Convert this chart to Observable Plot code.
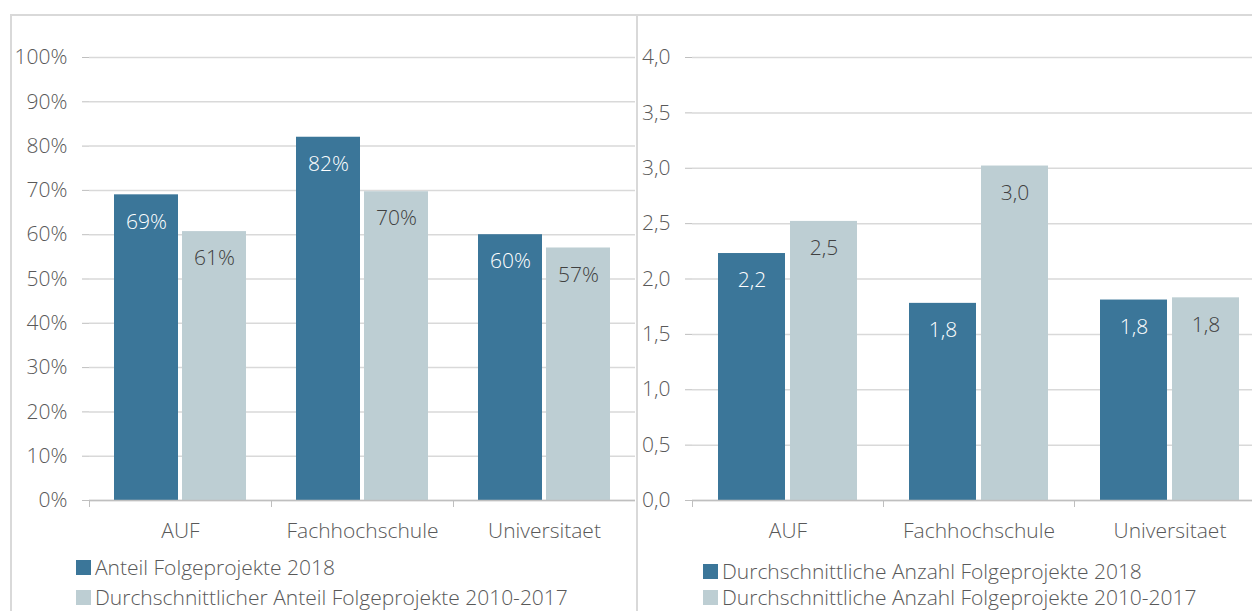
<!DOCTYPE html>
<html>
<head>
<meta charset="utf-8">
<script src="https://cdn.jsdelivr.net/npm/d3@7"></script>
<script src="https://cdn.jsdelivr.net/npm/@observablehq/plot@0.6"></script>
<style>
  body { margin: 0; background: #fff; }
  #wrap { position: relative; width: 1252px; height: 611px; overflow: hidden; font-family: "Open Sans", sans-serif; font-weight: 300; color: #595959; }
  .panel { position: absolute; top: 14px; height: 700px; box-sizing: border-box; border-left: 2px solid #d9d9d9; border-top: 2px solid #d9d9d9; }
  .panel svg { position: absolute; left: 0; top: 0; overflow: visible; }
  .legend { position: absolute; font-size: 21px; line-height: 1; white-space: nowrap; }
  .legend .item { position: absolute; left: 0; display: flex; align-items: center; height: 24px; }
  .legend .sw { width: 15px; height: 15px; margin-right: 4px; flex: none; }
</style>
</head>
<body>
<div id="wrap">
  <div class="panel" id="p1" style="left:10px; width:626px;"></div>
  <div class="panel" id="p2" style="left:636px; width:640px;"></div>
</div>
<script>
const categories = ["AUF", "Fachhochschule", "Universitaet"];

const leftSeries = ["Anteil Folgeprojekte 2018", "Durchschnittlicher Anteil Folgeprojekte 2010-2017"];
const leftValues2018 = [0.69, 0.82, 0.60];
const leftValuesAvg = [0.607, 0.697, 0.57];
const leftTicks = [0, 0.1, 0.2, 0.3, 0.4, 0.5, 0.6, 0.7, 0.8, 0.9, 1.0];

const rightSeries = ["Durchschnittliche Anzahl Folgeprojekte 2018", "Durchschnittliche Anzahl Folgeprojekte 2010-2017"];
const rightValues2018 = [2.23, 1.78, 1.81];
const rightValuesAvg = [2.52, 3.02, 1.83];
const rightTicks = [0, 0.5, 1.0, 1.5, 2.0, 2.5, 3.0, 3.5, 4.0];

const colors = ["#3b7699", "#bdced3"];
const pctFmt = v => Math.round(v * 100) + "%";
const decFmt = v => v.toFixed(1).replace(".", ",");

function panel({v2018, vAvg, series, ticks, fmt, width, height, marginLeft, marginTop, marginBottom, yMax}) {
  const data = categories.flatMap((c, i) => [
    {cat: c, series: series[0], value: v2018[i]},
    {cat: c, series: series[1], value: vAvg[i]}
  ]);
  const bw = (width - marginLeft) / categories.length;
  return Plot.plot({
    width, height, marginLeft, marginRight: 0, marginTop, marginBottom,
    style: {fontFamily: "'Open Sans', sans-serif", fontSize: "21px", fontWeight: 300, color: "#595959", background: "transparent", overflow: "visible"},
    fx: {domain: categories, padding: 0, label: null},
    x: {domain: series, paddingInner: 0.065, paddingOuter: 0.355, axis: null},
    y: {domain: [0, yMax], label: null},
    color: {domain: series, range: colors},
    marks: [
      Plot.gridY(ticks, {stroke: "#d9d9d9", strokeOpacity: 1, strokeWidth: 1.5}),
      Plot.barY(data, {fx: "cat", x: "series", y: "value", fill: "series"}),
      Plot.text(data.filter(d => d.series === series[0]), {fx: "cat", x: "series", y: "value", text: d => fmt(d.value), dy: 27, fill: "#ffffff", fontSize: 21}),
      Plot.text(data.filter(d => d.series === series[1]), {fx: "cat", x: "series", y: "value", text: d => fmt(d.value), dy: 27, fill: "#404040", fontSize: 21}),
      Plot.ruleY([0], {stroke: "#bfbfbf", strokeWidth: 1.5}),
      Plot.axisY(ticks, {tickFormat: fmt, tickSize: 7, tickPadding: 15, stroke: "#bfbfbf", fill: "#595959", line: true, label: null}),
      Plot.axisFx({anchor: "bottom", tickSize: 0, tickPadding: 23, fill: "#595959", label: null}),
      Plot.axisFx({anchor: "bottom", tickSize: 7, text: null, dx: -bw / 2, stroke: "#bfbfbf", label: null})
    ]
  });
}

function legend(el, series, left, top, gap) {
  const lg = document.createElement("div");
  lg.className = "legend";
  lg.style.left = left + "px";
  lg.style.top = top + "px";
  series.forEach((s, i) => {
    const it = document.createElement("div");
    it.className = "item";
    it.style.top = (i * gap) + "px";
    const sw = document.createElement("span");
    sw.className = "sw";
    sw.style.background = colors[i];
    const tx = document.createElement("span");
    tx.textContent = s;
    it.appendChild(sw); it.appendChild(tx);
    lg.appendChild(it);
  });
  el.appendChild(lg);
}

const p1 = document.getElementById("p1");
p1.appendChild(panel({v2018: leftValues2018, vAvg: leftValuesAvg, series: leftSeries, ticks: leftTicks, fmt: pctFmt,
  width: 623, height: 530, marginLeft: 77, marginTop: 41, marginBottom: 46, yMax: 1}));
legend(p1, leftSeries, 64, 539, 30);

const p2 = document.getElementById("p2");
p2.appendChild(panel({v2018: rightValues2018, vAvg: rightValuesAvg, series: rightSeries, ticks: rightTicks, fmt: decFmt,
  width: 627, height: 530, marginLeft: 54, marginTop: 41, marginBottom: 46, yMax: 4}));
legend(p2, rightSeries, 65, 543, 26);
</script>
</body>
</html>
